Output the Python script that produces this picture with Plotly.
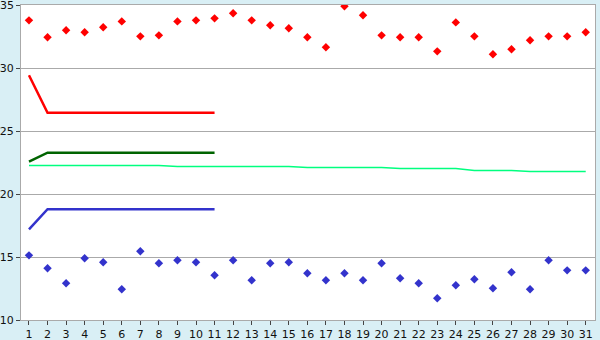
import plotly.graph_objects as go

days = list(range(1, 32))
red_points = [33.78, 32.44, 32.99, 32.83, 33.23, 33.70, 32.51, 32.59, 33.70, 33.78,
              33.94, 34.34, 33.78, 33.39, 33.15, 32.44, 31.64, 34.90, 34.18, 32.59,
              32.44, 32.44, 31.32, 33.62, 32.51, 31.09, 31.48, 32.20, 32.51, 32.51, 32.83]
blue_points = [15.13, 14.10, 12.91, 14.90, 14.58, 12.44, 15.45, 14.50, 14.74, 14.58,
               13.55, 14.74, 13.15, 14.50, 14.58, 13.71, 13.15, 13.71, 13.15, 14.50,
               13.31, 12.91, 11.72, 12.75, 13.23, 12.52, 13.79, 12.44, 14.74, 13.94, 13.94]
mean_line = [22.27]*8 + [22.19]*7 + [22.11]*5 + [22.03]*4 + [21.87]*3 + [21.79]*4

line_days = list(range(1, 12))
red_line = [29.42] + [26.45]*10
green_line = [22.57] + [23.28]*10
blue_line = [17.20] + [18.79]*10

y_ticks = [10, 15, 20, 25, 30, 35]

fig = go.Figure()
fig.add_trace(go.Scatter(x=days, y=mean_line, mode="lines",
                         line=dict(color="#00FF7F", width=1.5)))
fig.add_trace(go.Scatter(x=line_days, y=red_line, mode="lines",
                         line=dict(color="#FF0000", width=2.5)))
fig.add_trace(go.Scatter(x=line_days, y=green_line, mode="lines",
                         line=dict(color="#006400", width=2.5)))
fig.add_trace(go.Scatter(x=line_days, y=blue_line, mode="lines",
                         line=dict(color="#3333CC", width=2.5)))
fig.add_trace(go.Scatter(x=days, y=red_points, mode="markers",
                         marker=dict(color="#FF0000", symbol="diamond", size=6.5)))
fig.add_trace(go.Scatter(x=days, y=blue_points, mode="markers",
                         marker=dict(color="#3333CC", symbol="diamond", size=6.5)))

fig.update_layout(
    width=600, height=340,
    margin=dict(l=21, r=5, t=5, b=20),
    paper_bgcolor="#D9EFF5",
    plot_bgcolor="#FFFFFF",
    showlegend=False,
    font=dict(family="DejaVu Sans", size=11, color="#111111"),
)
fig.update_xaxes(
    range=[0.57, 31.5], tickmode="array", tickvals=days, ticktext=[str(d) for d in days],
    showgrid=False, zeroline=False, automargin=False,
    showline=True, mirror=True, linecolor="#AAAAAA", linewidth=1,
    ticks="outside", ticklen=4, tickcolor="#444444",
)
fig.update_yaxes(
    range=[10, 35], tickmode="array", tickvals=y_ticks,
    ticktext=[str(v) if v != y_ticks[-1] else "" for v in y_ticks], automargin=False,
    showgrid=True, gridcolor="#AAAAAA", gridwidth=1, zeroline=False,
    showline=True, mirror=True, linecolor="#AAAAAA", linewidth=1,
    ticks="outside", ticklen=4, tickcolor="#444444",
)
fig.add_annotation(x=0, xref="paper", y=y_ticks[-1], yref="y", text=str(y_ticks[-1]),
                   showarrow=False, xanchor="right", yanchor="middle", xshift=-5,
                   font=dict(family="DejaVu Sans", size=11, color="#111111"))

fig.write_html("out.html")
